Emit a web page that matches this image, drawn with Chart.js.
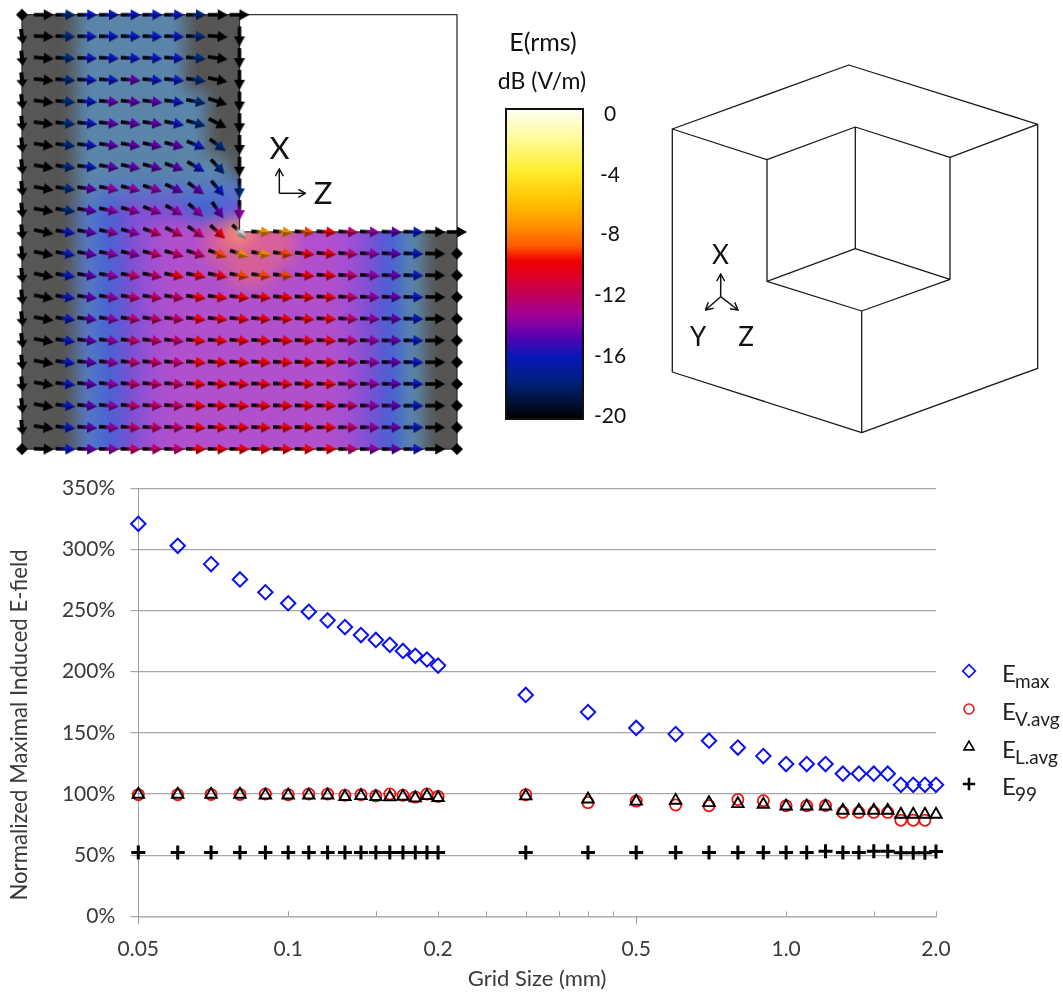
<!DOCTYPE html>
<html><head><meta charset="utf-8">
<script src="https://cdn.jsdelivr.net/npm/chart.js@4"></script>
<style>
html,body{margin:0;padding:0;background:#fff;overflow:hidden}
#stage{position:relative;width:1063px;height:996px}
canvas,svg{position:absolute;display:block}
#field{left:0;top:0}
#plot{left:0;top:470px}
#over{left:0;top:0;pointer-events:none}
#over text{font-family:Lato,sans-serif;fill:#111;text-anchor:middle;dominant-baseline:central}
#cbar{position:absolute;left:505px;top:108px;width:75px;height:308px;border:2px solid #111;
background:linear-gradient(to bottom,#fffff2 0%,#fffa90 10%,#ffec2c 20%,#ffc000 30%,#ff9000 38%,#ff5a00 44%,#f00000 49%,#d00040 57%,#9c0098 67%,#6000b0 73%,#0818b8 80%,#002080 88%,#001440 94%,#000 100%)}
</style></head><body>
<div id="stage">
<canvas id="field" width="480" height="465"></canvas>
<canvas id="plot" width="1063" height="526"></canvas>
<div id="cbar"></div>
<svg id="over" width="1063" height="470" viewBox="0 0 1063 470">
 <defs><marker id="ah" viewBox="0 0 10 10" refX="9" refY="5" markerWidth="9" markerHeight="9" markerUnits="userSpaceOnUse" orient="auto"><path d="M1 0.5L9 5L1 9.5" fill="none" stroke="#111" stroke-width="1.6"/></marker></defs>
 <g fill="none" stroke="#1a1a1a" stroke-width="1.3" stroke-linejoin="round">
  <path d="M672.3 129L848.7 65L1037.7 124.3L950 157.3L855.3 127L767 159.7L672.3 129V372L861.7 432.7L1037.7 368.3V124.3"/>
  <path d="M767 159.7V281.3L861.7 311V432.7M855.3 127V248.7L767 281.3M855.3 248.7L950 279.3V157.3M950 279.3L861.7 311"/>
 </g>
 <g fill="none" stroke="#111" stroke-width="1.5">
  <path d="M720.7 296.7V274" marker-end="url(#ah)"/><path d="M720.7 296.7L705.5 310" marker-end="url(#ah)"/><path d="M720.7 296.7L738 310" marker-end="url(#ah)"/>
  <path d="M279.3 193.3V169" marker-end="url(#ah)"/><path d="M279.3 193.3H305.5" marker-end="url(#ah)"/>
 </g>
 <text x="720.5" y="254" font-size="26">X</text><text x="698" y="336" font-size="26">Y</text><text x="746" y="336" font-size="26">Z</text>
 <text x="279.5" y="147" font-size="31">X</text><text x="323" y="192" font-size="31">Z</text>
 <text x="543" y="41" font-size="25">E(rms)</text><text x="542" y="80" font-size="23">dB (V/m)</text>
 <text x="610" y="112" font-size="21">0</text><text x="610" y="173" font-size="21">-4</text><text x="610" y="232" font-size="21">-8</text>
 <text x="610" y="293" font-size="21">-12</text><text x="610" y="354" font-size="21">-16</text><text x="610" y="414" font-size="21">-20</text>
</svg>
</div>
<script>
/* ---------- line chart data ---------- */
const gridSizes=[0.05,0.06,0.07,0.08,0.09,0.1,0.11,0.12,0.13,0.14,0.15,0.16,0.17,0.18,0.19,0.2,0.3,0.4,0.5,0.6,0.7,0.8,0.9,1.0,1.1,1.2,1.3,1.4,1.5,1.6,1.7,1.8,1.9,2.0];
const eMax=[321,303,288,275.5,265,256,249,242,236.5,230,226,222,217,213,210,205,181,167,154,149,143.6,138,131,124.5,124.5,124.5,116.6,116.6,116.6,116.6,107.5,107.5,107.5,107.5];
const eVAvg=[99.5,99.5,99.7,99.7,100,99.5,100,100,99,99.5,98.5,100,99,97.5,100,98,99.5,93,94.2,91,90.4,95.5,94.5,90.4,90.4,90.6,85,85,85,85,78.6,78.6,78.6,null];
const eLAvg=[99.7,99.7,99.7,99.7,99,99,99,99,97.8,98.5,97.8,97.5,98,96.7,98.5,97,98.3,95.8,94,94.7,92.8,92,91.5,90,90,90,86.5,86.5,86.5,86.5,83.3,83.3,83.3,83.3];
const e99=[52.1,52.1,52.1,52.1,52.1,52.1,52.1,52.1,52.1,52.1,52.1,52.1,52.1,52.1,52.1,52.1,52.1,52.1,52.1,52.1,52.1,52.1,52.1,52.1,52.1,53.2,52.1,52.1,53.2,53.2,52,52,52,53];
const xTickLabels={0.05:'0.05',0.1:'0.1',0.2:'0.2',0.5:'0.5',1:'1.0',2:'2.0'};
const xMinorTicks=[0.1,0.15,0.2,0.25,0.3,0.35,0.4,0.45,1,1.5,2];
const xLongTicks=[0.05,0.5];
const yTitle='Normalized Maximal Induced E-field';
const xTitle='Grid Size (mm)';
const legendSubs=['max','V.avg','L.avg','99'];

/* ---------- vector field ---------- */
const arrowColours=[
".kdbbbbbdkk",
"skdbbbbbdkk",
"skdbbbbbdkk",
"skdbbvbbdkk",
"skdbvvvbdkk",
"skdbvvvbdkk",
"skdbvvvvbdk",
"skdbvvvvbdk",
"skdvpppvvbd",
"skdvpppppvp",
"skbvppmmmrwooermpvbkk",
"skbvppmmmeooerrmpvbk.",
"skbvpmmrrreeerrmpvbk.",
"skbvpmmmrrrrrrrmpvbk.",
"skbvpmmmrrrrrrrmpvbk.",
"skbvpmmmrrrrrrrmpvbk.",
"skbvpmmmrrrrrrrmpvbk.",
"skbvpmmmrrrrrrrmpvbk.",
"skbvpmmmrrrrrrrmpvbk.",
"skbvpmmmrrrrrrrmpvbk.",
".kbvpmmmrrrrrrrmpvbk."];
const arrowAngles=[
[0,0,0,0,0,0,0,0,0,0,0],
[82,3,2,1,1,2,2,2,3,4,90],
[84,5,3,2,3,3,3,4,5,8,90],
[84,6,4,3,4,5,5,6,8,12,90],
[84,7,5,4,5,6,7,8,11,18,90],
[84,8,6,5,6,8,9,11,16,27,90],
[84,9,7,6,8,10,12,15,23,37,90],
[84,10,8,7,9,12,15,20,30,47,90],
[84,10,8,8,11,14,18,25,36,50,90],
[84,10,9,9,12,16,21,29,41,55,90],
[84,12,9,10,12,16,20,26,34,42,45,3,4,4,4,3,3,2,2,1,0],
[84,12,10,10,11,13,14,16,18,20,18,10,8,6,5,4,3,3,2,1,0],
[84,11,9,9,10,10,11,11,11,11,10,8,6,5,4,3,3,2,1,1,0],
[84,11,9,8,9,9,9,9,8,8,7,6,5,4,4,3,2,2,1,1,0],
[84,10,8,7,8,8,8,7,7,6,6,5,4,4,3,3,2,2,1,0,0],
[84,10,8,7,7,7,7,6,6,5,5,4,4,3,3,2,2,1,1,0,0],
[84,10,8,6,6,6,6,5,5,5,4,4,3,3,2,2,2,1,1,0,0],
[84,10,7,6,6,5,5,5,4,4,4,3,3,3,2,2,1,1,1,0,0],
[84,10,7,5,5,5,4,4,4,3,3,3,2,2,2,1,1,1,0,0,0],
[84,9,6,4,4,4,3,3,3,3,2,2,2,2,1,1,1,1,0,0,0],
[0,2,2,2,1,1,1,1,1,1,1,1,1,1,0,0,0,0,0,0,0]];
const backgroundRows=[
"gggsssssggg","gggsssssggg","gggsssssggg","gggsssssggg",
"gggssssssgg","gggssssssgg","gggssssssgg","gggsssssssg",
"gggsttttttt","gggtBVVVBBV",
"gggtBVPMMHOHHMMPVBsgg",
"gggtBVPMMHHHHMMPVBsgg",
"gggtBVPMMMHHMMMPVBsgg",
"gggtBVPMMMMMMMMPVBsgg","gggtBVPMMMMMMMMPVBsgg","gggtBVPMMMMMMMMPVBsgg","gggtBVPMMMMMMMMPVBsgg",
"gggtBVPMMMMMMMMPVBsgg","gggtBVPMMMMMMMMPVBsgg","gggtBVPMMMMMMMMPVBsgg","gggtBVPMMMMMMMMPVBsgg"];
const backgroundPalette={g:'#565656',s:'#5a84a8',t:'#5678c0',B:'#4a62d2',V:'#7a52d2',P:'#a050d2',M:'#b050cc',H:'#d4609a',O:'#f8906a'};
const arrowPalette={k:'#000000',s:'#000000',d:'#002a78',b:'#0c18b8',v:'#5c00a8',p:'#8c00a0',m:'#bc0068',r:'#e80010',e:'#f04400',o:'#f08800',w:'#e8e8e8'};

/* sprites for arrows */
function arrowSprite(col,len,hw,sw){
  const c=document.createElement('canvas');c.width=len+2;c.height=16;
  const x=c.getContext('2d'),mid=8;
  const g=x.createLinearGradient(1,0,len+1,0);
  g.addColorStop(0,'#000');g.addColorStop(0.2,'#000');g.addColorStop(0.5,col);g.addColorStop(1,col==='#e8e8e8'?'#888':col);
  x.fillStyle=g;
  const head=len*0.5;
  x.beginPath();x.moveTo(1,mid-sw);x.lineTo(len+1-head,mid-sw);x.lineTo(len+1-head,mid-hw);x.lineTo(len+1,mid);
  x.lineTo(len+1-head,mid+hw);x.lineTo(len+1-head,mid+sw);x.lineTo(1,mid+sw);x.closePath();x.fill();
  /* darker underside of the cone */
  x.fillStyle='rgba(0,0,0,0.35)';
  x.beginPath();x.moveTo(len+1-head,mid);x.lineTo(len+1,mid);x.lineTo(len+1-head,mid+hw);x.closePath();x.fill();
  return c;
}
function dotSprite(){
  const c=document.createElement('canvas');c.width=14;c.height=14;const x=c.getContext('2d');
  x.fillStyle='#000';x.beginPath();x.moveTo(7,1);x.lineTo(13,7);x.lineTo(7,13);x.lineTo(1,7);x.closePath();x.fill();return c;
}
const sprites={'.':dotSprite()};
for(const k in arrowPalette){sprites[k]=k==='s'?arrowSprite(arrowPalette[k],15,5.5,2):arrowSprite(arrowPalette[k],20,5.5,1.8);}

const fieldPoints=[];
arrowColours.forEach((row,r)=>{[...row].forEach((k,c)=>{fieldPoints.push({x:c,y:r,k:k,a:arrowAngles[r][c]});});});

const backdrop={id:'backdrop',beforeDatasetsDraw(chart){
  const {ctx,scales:{x,y}}=chart;
  const off=document.createElement('canvas');off.width=21;off.height=21;const o=off.getContext('2d');
  backgroundRows.forEach((row,r)=>{const s=row.padEnd(21,'g');[...s].forEach((k,c)=>{o.fillStyle=backgroundPalette[k];o.fillRect(c,r,1,1);});});
  const px=v=>x.getPixelForValue(v),py=v=>y.getPixelForValue(v);
  const L=[[0,0],[10,0],[10,10],[20,10],[20,20],[0,20]];
  ctx.save();
  ctx.beginPath();L.forEach((p,i)=>i?ctx.lineTo(px(p[0]),py(p[1])):ctx.moveTo(px(p[0]),py(p[1])));ctx.closePath();ctx.clip();
  ctx.imageSmoothingEnabled=true;ctx.imageSmoothingQuality='high';
  ctx.drawImage(off,px(-0.5),py(-0.5),px(20.5)-px(-0.5),py(20.5)-py(-0.5));
  ctx.restore();
  ctx.save();ctx.strokeStyle='#333';ctx.lineWidth=1.3;ctx.beginPath();
  ctx.moveTo(px(10),py(0));ctx.lineTo(px(20),py(0));ctx.lineTo(px(20),py(20));ctx.lineTo(px(0),py(20));ctx.lineTo(px(0),py(0));ctx.lineTo(px(10),py(0));
  ctx.moveTo(px(10),py(0));ctx.lineTo(px(10),py(10));ctx.lineTo(px(20),py(10));
  ctx.stroke();ctx.restore();
}};
new Chart(document.getElementById('field'),{
  type:'scatter',
  data:{datasets:[{data:fieldPoints,showLine:false,clip:false,
    pointRadius:10,pointHoverRadius:10,
    pointStyle:c=>sprites[c.raw.k],
    pointRotation:c=>c.raw.a}]},
  options:{responsive:false,animation:false,events:[],
    layout:{padding:0,autoPadding:false},
    plugins:{legend:{display:false},tooltip:{enabled:false}},
    scales:{x:{display:false,min:-22/21.75,max:(480-22)/21.75},
            y:{display:false,reverse:true,min:-14.7/21.72,max:(465-14.7)/21.72}}},
  plugins:[backdrop]
});

/* ---------- main scatter chart ---------- */
const pts=a=>gridSizes.map((g,i)=>({x:g,y:a[i]}));
const txt='#3a3a3a';
const extras={id:'extras',
  beforeDatasetsDraw(chart){
    const {ctx,scales:{x,y}}=chart,b=y.getPixelForValue(0);
    ctx.save();ctx.strokeStyle='#a0a0a0';ctx.lineWidth=1;ctx.beginPath();
    xMinorTicks.forEach(v=>{const p=Math.round(x.getPixelForValue(v))+.5;ctx.moveTo(p,b-5);ctx.lineTo(p,b);});
    xLongTicks.forEach(v=>{const p=Math.round(x.getPixelForValue(v))+.5;ctx.moveTo(p,b);ctx.lineTo(p,b+8);});
    ctx.stroke();ctx.restore();
  },
  afterDraw(chart){
    const {ctx}=chart;
    ctx.save();
    ctx.translate(20,255);ctx.rotate(-Math.PI/2);
    ctx.font='22.2px Lato';ctx.fillStyle=txt;ctx.textAlign='center';ctx.textBaseline='middle';
    ctx.fillText(yTitle,0,0);
    ctx.restore();
    const ys=[201,239,277,314];
    chart.data.datasets.forEach((d,i)=>{
      ctx.save();
      ctx.strokeStyle=d.pointBorderColor;ctx.fillStyle='rgba(0,0,0,0)';ctx.lineWidth=d.pointBorderWidth*0.85;
      Chart.helpers.drawPoint(ctx,{pointStyle:d.pointStyle,radius:d.pointRadius*0.88,rotation:0,borderWidth:ctx.lineWidth},969,ys[i]);
      ctx.restore();
      ctx.save();ctx.fillStyle='#222';ctx.textBaseline='alphabetic';ctx.textAlign='left';
      ctx.font='24px Lato';ctx.fillText('E',1002,ys[i]+11);
      ctx.font='19px Lato';ctx.fillText(legendSubs[i],1015,ys[i]+17);
      ctx.restore();
    });
  }
};
const marker=(label,arr,col,style,r,w,order)=>({label,data:pts(arr),showLine:false,clip:false,order,
  pointStyle:style,pointRadius:r,pointHoverRadius:r,pointBorderColor:col,pointBackgroundColor:'rgba(0,0,0,0)',pointBorderWidth:w});
new Chart(document.getElementById('plot'),{
  type:'scatter',
  data:{datasets:[
    marker('Emax',eMax,'#0a10f0','rectRot',7.2,2,4),
    marker('EV.avg',eVAvg,'#ee1111','circle',5.6,1.8,3),
    marker('EL.avg',eLAvg,'#000','triangle',6.6,1.9,2),
    marker('E99',e99,'#000','cross',7,3,1)]},
  options:{responsive:false,animation:false,events:[],
    layout:{padding:{left:0,right:127,top:18.3,bottom:0},autoPadding:false},
    plugins:{legend:{display:false},tooltip:{enabled:false}},
    scales:{
      x:{type:'logarithmic',min:0.05,max:2,
        afterBuildTicks:s=>{s.ticks=Object.keys(xTickLabels).map(Number).sort((a,b)=>a-b).map(v=>({value:v}));},
        afterFit:s=>{s.height=79.7;s.paddingLeft=0;s.paddingRight=0;},
        grid:{display:false,drawTicks:false},
        border:{display:true,color:'#b4b4b4',width:1.5},
        ticks:{autoSkip:false,maxRotation:0,padding:20,color:txt,font:{family:'Lato',size:21},callback:v=>xTickLabels[v]||''},
        title:{display:true,text:xTitle,color:txt,font:{family:'Lato',size:22},padding:{top:0,bottom:4}}},
      y:{min:0,max:350,
        afterFit:s=>{s.width=138.3;s.paddingTop=0;s.paddingBottom=0;},
        grid:{color:'#a8a8a8',lineWidth:1.2,tickLength:8,drawTicks:true},
        border:{display:true,color:'#a0a0a0',width:1},
        ticks:{stepSize:50,padding:15,color:txt,font:{family:'Lato',size:21},callback:v=>v+'%'}}
    }},
  plugins:[extras]
});
</script>
</body></html>
